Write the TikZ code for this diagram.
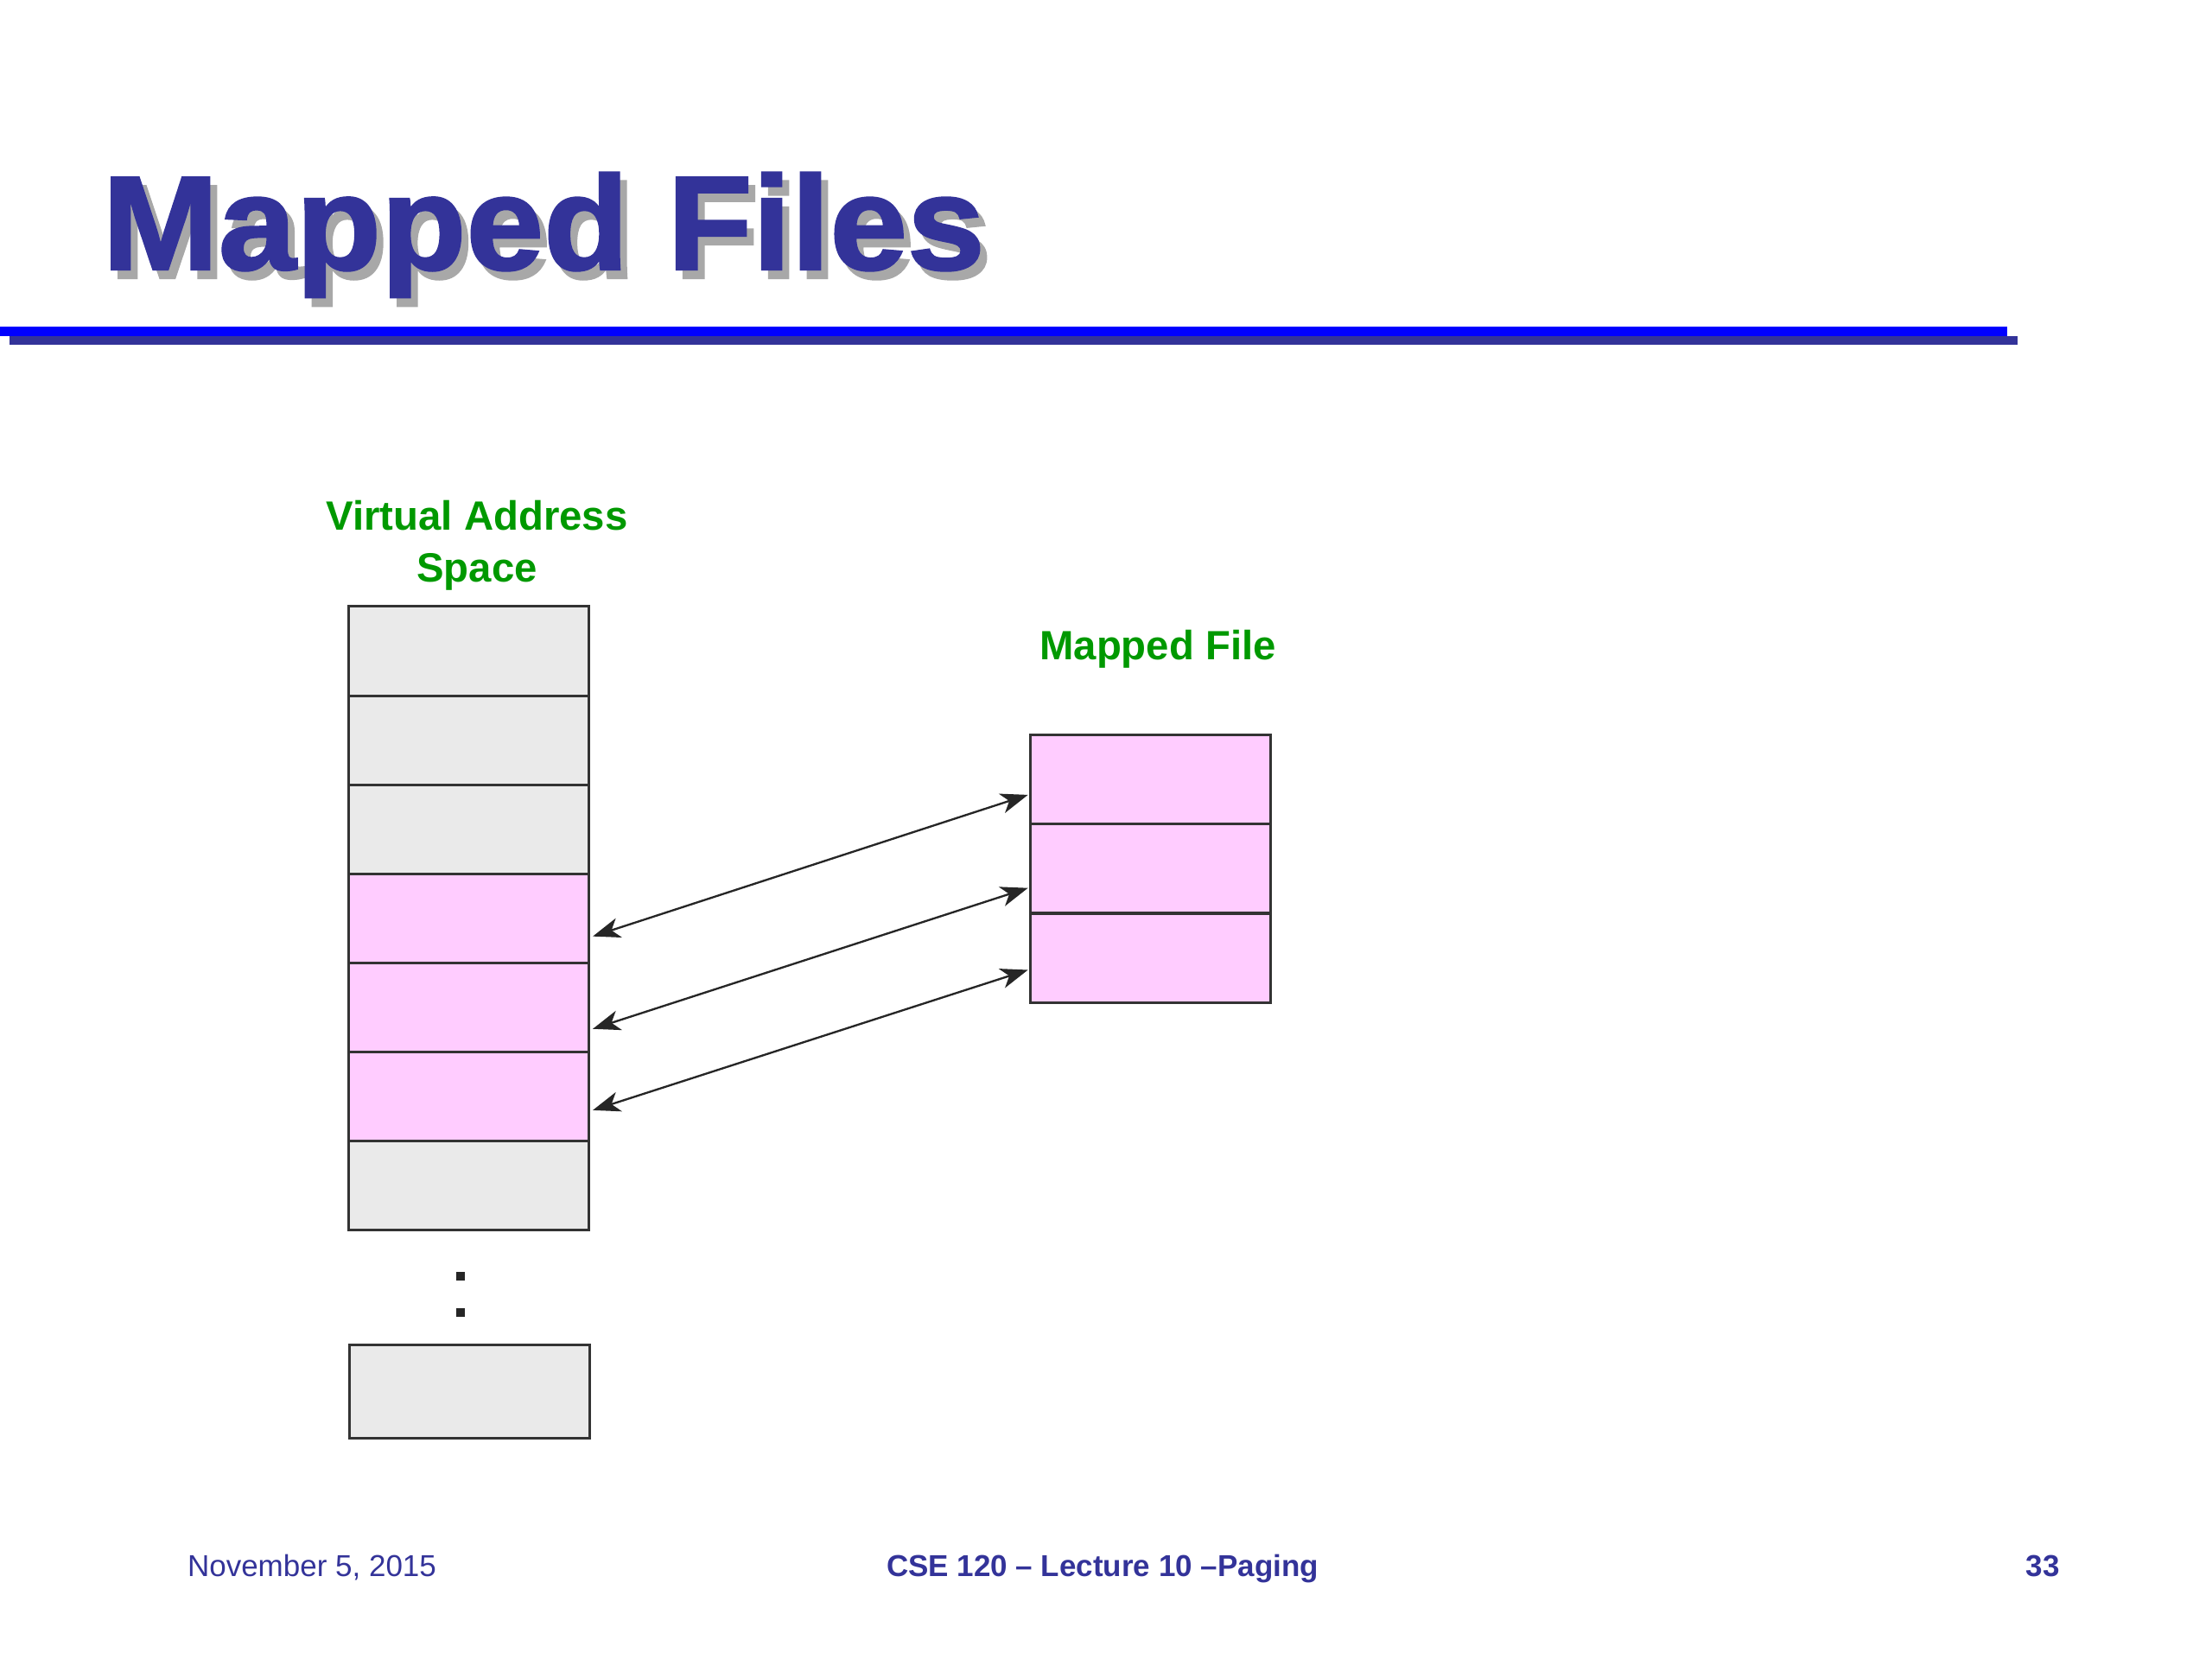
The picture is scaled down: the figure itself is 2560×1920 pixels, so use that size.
\documentclass[tikz,border=0pt]{standalone}
\usepackage{fontspec}
\setmainfont{Liberation Sans}
\newfontfamily\titlefont{Liberation Sans Bold}[FakeBold=1.6]
\usetikzlibrary{arrows.meta}
\definecolor{navy}{HTML}{333399}
\definecolor{rulebl}{HTML}{0000FF}
\definecolor{shade}{HTML}{A8A8A8}
\definecolor{greytxt}{HTML}{009900}
\definecolor{cellgray}{HTML}{EAEAEA}
\definecolor{cellpink}{HTML}{FFCCFF}
\definecolor{linec}{HTML}{333333}
\newcommand{\titletext}{\scalebox{1.04}[1]{Mapped Files}}
\tikzset{
  cell/.style={draw=linec, line width=0.9pt, minimum width=83.4pt, minimum height=30.95pt, inner sep=0pt, outer sep=0pt},
  grey/.style={cell, fill=cellgray},
  pink/.style={cell, fill=cellpink},
  lbl/.style={text=greytxt, font=\fontsize{14.2}{18}\selectfont\bfseries, align=center, inner sep=0pt},
  foot/.style={text=navy, font=\fontsize{10.5}{12}\selectfont, inner sep=0pt, anchor=base},
  link/.style={{Stealth[length=9.5pt,width=7pt,inset=2.7pt]}-{Stealth[length=9.5pt,width=7pt,inset=2.7pt]}, line width=0.7pt, draw=black!85, shorten <=1.6pt, shorten >=0.9pt},
  dotsq/.style={fill=black!85, minimum size=3.2pt, inner sep=0pt}
}
\begin{document}
\begin{tikzpicture}[x=0.3pt, y=-0.3pt]
\useasboundingbox (0,0) rectangle (2560,1920);
% title with drop shadow
\node[anchor=base west, text=navy, inner sep=0pt] (title) at (118,312) {\titlefont\fontsize{46.5}{50}\selectfont\rlap{\hspace{2.4pt}\raisebox{-3pt}{\color{shade}\titletext}}\titletext};
% rule
\fill[navy] (11,389) rectangle (2335,399);
\fill[rulebl] (0,378) rectangle (2323,389);
% labels
\node[lbl] (vaslbl) at (552,631) {Virtual Address\\Space};
\node[lbl] (mflbl) at (1340,751) {Mapped File};
% virtual address space
\node[grey] (v1) at (542,753.5) {};
\node[grey] (v2) at (542,856.6) {};
\node[grey] (v3) at (542,959.7) {};
\node[pink] (v4) at (542,1062.8) {};
\node[pink] (v5) at (542,1165.9) {};
\node[pink] (v6) at (542,1269.0) {};
\node[grey] (v7) at (542,1372.1) {};
\node[dotsq] (d1) at (533,1477) {};
\node[dotsq] (d2) at (533,1519) {};
\node[grey, minimum height=32.4pt] (v8) at (543.5,1610) {};
% mapped file
\node[pink] (f1) at (1331.5,902) {};
\node[pink] (f2) at (1331.5,1005.3) {};
\node[pink] (f3) at (1331.5,1108.6) {};
% arrows
\draw[link] ([yshift=-6.75pt]v4.east) -- ([yshift=-5.1pt]f1.west);
\draw[link] ([yshift=-7.95pt]v5.east) -- ([yshift=-6.45pt]f2.west);
\draw[link] ([yshift=-5.25pt]v6.east) -- ([yshift=-3.9pt]f3.west);
% footer
\node[foot] (date) at (361,1824) {November 5, 2015};
\node[foot, font=\fontsize{10.5}{12}\selectfont\bfseries] (course) at (1276,1824) {CSE 120 -- Lecture 10 --Paging};
\node[foot, font=\fontsize{10.5}{12}\selectfont\bfseries] (page) at (2364,1824) {33};
\end{tikzpicture}
\end{document}
